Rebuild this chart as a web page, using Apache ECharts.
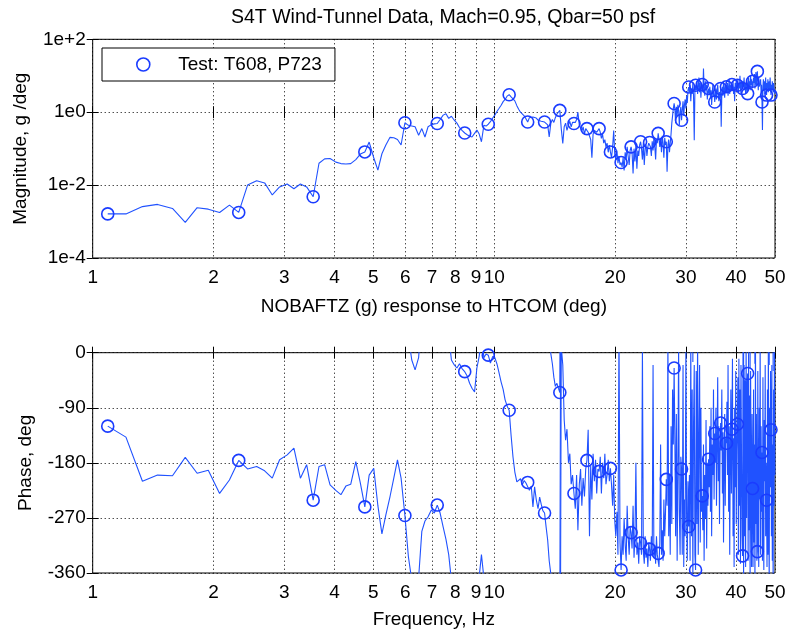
<!DOCTYPE html>
<html>
<head>
<meta charset="utf-8">
<script src="https://cdn.jsdelivr.net/npm/echarts@6/dist/echarts.min.js"></script>
<style>html,body{margin:0;padding:0;background:#fff}#c{width:793px;height:631px}</style>
</head>
<body>
<div id="c"></div>
<script>
const titleText = 'S4T Wind-Tunnel Data, Mach=0.95, Qbar=50 psf';
const seriesName = 'Test: T608, P723';
const magAxisName = 'Magnitude, g /deg';
const magXAxisName = 'NOBAFTZ (g) response to HTCOM (deg)';
const phaseAxisName = 'Phase, deg';
const phaseXAxisName = 'Frequency, Hz';

const freqTicks = [1, 2, 3, 4, 5, 6, 7, 8, 9, 10, 20, 30, 40, 50];
const magDecadeTicks = [-4, -2, 0, 2];
const phaseTicks = [-360, -270, -180, -90, 0];
const phaseWrap = [0, 360, 720];
const markerEvery = 10;

const freqHz = [
1.09,1.21,1.33,1.45,1.58,1.70,1.82,1.94,2.07,2.19,
2.31,2.43,2.56,2.68,2.80,2.92,3.05,3.17,3.29,3.41,
3.54,3.66,3.78,3.90,4.03,4.15,4.27,4.39,4.52,4.64,
4.76,4.88,5.01,5.13,5.25,5.37,5.50,5.62,5.74,5.86,
5.99,6.11,6.23,6.35,6.48,6.60,6.72,6.84,6.97,7.09,
7.21,7.33,7.46,7.58,7.70,7.82,7.95,8.07,8.19,8.31,
8.44,8.56,8.68,8.80,8.93,9.05,9.17,9.29,9.42,9.54,
9.66,9.78,9.91,10.03,10.15,10.27,10.40,10.52,10.64,10.76,
10.89,11.01,11.13,11.25,11.38,11.50,11.62,11.74,11.87,11.99,
12.11,12.23,12.36,12.48,12.60,12.72,12.85,12.97,13.09,13.21,
13.34,13.46,13.58,13.70,13.83,13.95,14.07,14.19,14.32,14.44,
14.56,14.68,14.81,14.93,15.05,15.17,15.30,15.42,15.54,15.66,
15.79,15.91,16.03,16.15,16.28,16.40,16.52,16.64,16.77,16.89,
17.01,17.13,17.26,17.38,17.50,17.62,17.75,17.87,17.99,18.11,
18.24,18.36,18.48,18.60,18.73,18.85,18.97,19.09,19.22,19.34,
19.46,19.58,19.71,19.83,19.95,20.07,20.20,20.32,20.44,20.56,
20.69,20.81,20.93,21.05,21.18,21.30,21.42,21.54,21.67,21.79,
21.91,22.03,22.16,22.28,22.40,22.52,22.65,22.77,22.89,23.01,
23.14,23.26,23.38,23.50,23.63,23.75,23.87,23.99,24.12,24.24,
24.36,24.48,24.61,24.73,24.85,24.97,25.10,25.22,25.34,25.46,
25.59,25.71,25.83,25.95,26.08,26.20,26.32,26.44,26.57,26.69,
26.81,26.93,27.06,27.18,27.30,27.42,27.55,27.67,27.79,27.91,
28.04,28.16,28.28,28.40,28.53,28.65,28.77,28.89,29.02,29.14,
29.26,29.38,29.51,29.63,29.75,29.87,30.00,30.12,30.24,30.36,
30.49,30.61,30.73,30.85,30.98,31.10,31.22,31.34,31.47,31.59,
31.71,31.83,31.96,32.08,32.20,32.32,32.45,32.57,32.69,32.81,
32.94,33.06,33.18,33.30,33.43,33.55,33.67,33.79,33.92,34.04,
34.16,34.28,34.41,34.53,34.65,34.77,34.90,35.02,35.14,35.26,
35.39,35.51,35.63,35.75,35.88,36.00,36.12,36.24,36.37,36.49,
36.61,36.73,36.86,36.98,37.10,37.22,37.35,37.47,37.59,37.71,
37.84,37.96,38.08,38.20,38.33,38.45,38.57,38.69,38.82,38.94,
39.06,39.18,39.31,39.43,39.55,39.67,39.80,39.92,40.04,40.16,
40.29,40.41,40.53,40.65,40.78,40.90,41.02,41.14,41.27,41.39,
41.51,41.63,41.76,41.88,42.00,42.12,42.25,42.37,42.49,42.61,
42.74,42.86,42.98,43.10,43.23,43.35,43.47,43.59,43.72,43.84,
43.96,44.08,44.21,44.33,44.45,44.57,44.70,44.82,44.94,45.06,
45.19,45.31,45.43,45.55,45.68,45.80,45.92,46.04,46.17,46.29,
46.41,46.53,46.66,46.78,46.90,47.02,47.15,47.27,47.39,47.51,
47.64,47.76,47.88,48.00,48.13,48.25,48.37,48.49,48.62,48.74,
48.86,48.98,49.11,49.23,49.35,49.47,49.60,49.72,49.84,49.96
];

// log10 of magnitude (g/deg)
const magLog10 = [
-2.79,-2.79,-2.59,-2.53,-2.64,-3.02,-2.62,-2.66,-2.75,-2.55,
-2.75,-2.00,-1.88,-1.94,-2.27,-2.05,-1.97,-2.10,-1.97,-2.05,
-2.32,-1.40,-1.28,-1.27,-1.37,-1.41,-1.42,-1.41,-1.30,-1.15,
-1.09,-0.82,-1.25,-1.59,-1.14,-0.90,-0.69,-0.70,-0.75,-0.90,
-0.29,-0.36,-0.38,-0.40,-0.63,-0.45,-0.68,-0.40,-0.34,-0.32,
-0.31,-0.20,-0.08,-0.04,-0.17,-0.11,-0.22,-0.30,-0.42,-0.50,
-0.57,-0.62,-0.66,-0.68,-0.58,-0.49,-0.60,-0.81,-0.36,-0.38,
-0.33,-0.26,-0.16,-0.08,0.02,0.10,0.19,0.29,0.35,0.44,
0.48,0.42,0.37,0.31,0.18,0.08,0.00,-0.04,-0.10,-0.18,
-0.27,-0.15,-0.10,-0.13,-0.08,-0.16,-0.22,-0.18,-0.25,-0.30,
-0.27,-0.22,-0.35,-0.68,-0.30,-0.20,-0.28,-0.15,-0.05,0.00,
0.05,-0.45,-0.86,-0.40,-0.30,-0.50,-0.35,-0.25,-0.40,-0.28,
-0.31,-0.28,-0.20,0.00,-0.35,-0.30,-0.52,-0.40,-0.60,-0.45,
-0.45,-0.55,-0.50,-0.75,-1.25,-0.60,-0.50,-0.48,-0.55,-0.50,
-0.45,-0.55,-0.72,-0.60,-0.85,-0.75,-0.95,-0.85,-1.10,-0.90,
-1.09,-1.25,-0.95,-0.50,-1.15,-1.30,-1.05,-1.40,-1.20,-1.45,
-1.38,-1.50,-1.25,-1.60,-1.10,-1.30,-0.95,-1.20,-1.45,-1.05,
-0.95,-1.10,-1.68,-1.00,-1.35,-0.90,-1.55,-1.05,-1.20,-0.90,
-0.81,-1.00,-1.30,-0.85,-1.45,-1.00,-0.90,-1.20,-0.95,-0.85,
-0.83,-0.95,-1.20,-0.80,-1.05,-0.70,-0.95,-1.30,-0.75,-0.85,
-0.58,-0.75,-0.95,-0.70,-1.10,-0.65,-0.85,-1.25,-0.70,-0.90,
-0.81,-1.63,-0.90,-0.75,-1.10,-0.85,-0.60,-0.30,-0.10,0.10,
0.24,0.10,-0.30,0.15,-0.10,0.20,0.05,-0.35,0.00,0.15,
-0.22,0.05,0.30,-0.10,0.20,0.35,0.10,0.45,0.25,0.60,
0.69,0.55,0.75,0.30,0.65,0.50,0.80,0.45,-0.77,0.60,
0.74,0.60,0.85,0.50,0.70,0.95,0.55,0.80,0.40,0.70,
0.76,0.55,1.20,0.65,0.45,0.85,0.60,0.75,0.35,0.55,
0.65,0.50,0.70,0.40,0.60,0.20,0.55,0.75,0.45,0.55,
0.28,0.45,0.65,0.35,0.60,0.75,0.50,0.30,0.55,0.40,
0.65,-0.40,0.50,0.70,0.45,0.85,0.60,0.40,0.75,0.55,
0.70,0.55,0.80,0.45,0.65,0.90,0.50,0.75,0.60,0.70,
0.76,0.60,0.85,0.50,0.70,0.30,0.80,0.65,0.90,0.60,
0.74,0.90,0.55,0.80,0.65,1.00,0.70,0.50,0.85,0.75,
0.65,0.85,0.70,0.95,0.60,0.80,0.50,0.75,0.90,0.55,
0.51,0.80,0.95,0.70,0.85,0.60,1.00,0.75,0.90,0.65,
0.85,0.70,0.95,0.80,1.05,0.65,0.90,1.10,0.75,0.95,
1.12,0.85,0.60,0.95,0.70,0.65,0.80,0.90,0.55,0.75,
0.28,-0.49,0.70,0.90,0.60,0.85,0.50,0.75,0.95,0.65,
0.47,0.80,0.65,0.90,0.55,0.75,0.85,0.60,0.95,0.70,
0.47,0.75,0.60,0.85,0.70,0.55,0.80,0.65,0.50,0.60
];

// phase, degrees (unwrapped where the plot wraps)
const phaseDeg = [
-120,-138,-210,-200,-201,-171,-197,-192,-230,-208,
-176,-190,-186,-193,-205,-175,-167,-156,-205,-183,
-241,-186,-183,-216,-225,-232,-218,-215,-178,-213,
-252,-200,-189,-250,-296,-265,-235,-205,-175,-205,
-266,-333,-372,-388,-368,-292,-275,-268,-257,-262,
-249,-262,-285,-305,-330,-372,-380,-385,-378,-386,
-391,-398,-410,-418,-424,-385,-366,-330,-368,-362,
-364,-377,-366,-368,-378,-392,-408,-420,-437,-447,
-454,-495,-530,-555,-571,-574,-566,-576,-569,-573,
-572,-585,-578,-612,-579,-600,-615,-596,-608,-618,
-622,-645,-666,-700,-722,-738,-760,-775,-770,-778,
-785,10,-20,-110,-143,-125,-180,-165,-215,-200,
-230,-255,-200,-290,-215,-190,-250,-205,-235,-190,
-176,-126,-300,-185,-240,-165,-210,-175,-230,-190,
-194,-170,-230,-180,-205,-165,-215,-200,-175,-210,
-189,-215,-250,-200,-275,-300,-260,-330,40,-310,
-355,-300,-330,-270,-315,-340,-250,-300,-330,-285,
-294,-320,-250,-335,-300,-180,-330,-310,-345,-300,
-311,-330,10,-325,-345,-300,-335,-320,-350,-310,
-321,-340,-300,-330,-20,-335,-315,-345,-300,-330,
-328,-350,-310,-150,-330,-290,-340,-240,-300,-260,
-207,-250,20,-300,-200,-330,-120,-280,-60,-150,
-25,-140,-300,-100,-340,-200,15,-260,-330,-170,
-190,-330,-20,-350,-240,-300,25,-270,-340,-210,
-284,-200,-340,20,-300,-60,-375,-120,-20,-330,
-355,-30,-280,35,-330,-150,-20,-310,-90,-260,
-234,-290,-150,-340,-200,-270,-110,-320,-180,-250,
-174,-220,-120,-260,-90,-300,-150,-200,-60,-240,
-132,-180,-90,-250,-140,-40,-210,-120,-280,-160,
-115,-160,-60,-230,-130,-310,-170,-100,-250,-140,
-148,-80,-200,-20,-260,-120,-330,-170,-60,-230,
-125,-10,-300,-140,-350,-90,-220,-30,-280,-160,
-117,-40,-330,-10,-250,-60,-345,-20,-180,-300,
-332,30,-380,-20,-300,-45,-350,25,-270,-60,
-34,-340,20,-290,-70,-385,-30,-200,-350,-100,
-222,-350,-60,-310,-150,-378,30,-280,-100,-340,
-325,-30,-280,-350,-90,-240,25,-330,-120,-260,
-163,-340,-40,-290,-355,-110,-210,-20,-300,-180,
-241,-350,-60,-330,30,-270,-380,-90,-220,-30,
-126,-300,-20,-340,-150,-390,-60,-250,20,-200
];

const lineColor = '#2052ff';
const markerColor = '#1a3cff';
const font = "'Liberation Sans', Arial, Helvetica, sans-serif";
const fs = 19;

const chart = echarts.init(document.getElementById('c'), null, {renderer: 'canvas'});
const logFreqTicks = freqTicks.map(f => Math.log10(f));
const xMax = Math.log10(50);

function xAxes(gridIndex, gap, name) {
  const main = {
    type: 'value', gridIndex, min: 0, max: xMax,
    axisLine: {show: false},
    axisTick: {show: true, inside: true, length: 6, customValues: logFreqTicks, lineStyle: {color: '#000', width: 1}},
    axisLabel: {show: true, customValues: logFreqTicks, margin: 10, color: '#000', fontFamily: font, fontSize: fs,
      formatter: v => String(Math.round(Math.pow(10, v)))},
    splitLine: {show: true, lineStyle: {color: '#000', width: 1, type: [1, 3]}},
    name, nameLocation: 'middle', nameGap: gap,
    nameTextStyle: {color: '#000', fontFamily: font, fontSize: fs}
  };
  const mirror = {
    type: 'value', gridIndex, min: 0, max: xMax, position: 'top',
    axisLine: {show: false},
    axisTick: {show: true, inside: true, length: 6, customValues: logFreqTicks, lineStyle: {color: '#000', width: 1}},
    axisLabel: {show: false, customValues: logFreqTicks},
    splitLine: {show: false}
  };
  return [main, mirror];
}

function yAxes(gridIndex, min, max, interval, fmt, name, gap) {
  const main = {
    type: 'value', gridIndex, min, max, interval,
    axisLine: {show: false},
    axisTick: {show: true, inside: true, length: 6, lineStyle: {color: '#000', width: 1}},
    axisLabel: {margin: 7, color: '#000', fontFamily: font, fontSize: fs, formatter: fmt},
    splitLine: {show: true, lineStyle: {color: '#000', width: 1, type: [1, 3]}},
    name, nameLocation: 'middle', nameGap: gap, nameRotate: 90,
    nameTextStyle: {color: '#000', fontFamily: font, fontSize: fs}
  };
  const mirror = {
    type: 'value', gridIndex, min, max, interval, position: 'right',
    axisLine: {show: false},
    axisTick: {show: true, inside: true, length: 6, lineStyle: {color: '#000', width: 1}},
    axisLabel: {show: false},
    splitLine: {show: false}
  };
  return [main, mirror];
}

const magFmt = v => v === 0 ? '1e0' : (v > 0 ? '1e+' + v : '1e' + v);
const phaseFmt = v => String(v);

const symSize = (v, p) => (p.dataIndex % markerEvery === 0 ? 12 : 0);
const baseSeries = {
  type: 'line', name: seriesName, symbol: 'circle', symbolSize: symSize,
  itemStyle: {color: 'rgba(0,0,0,0)', borderColor: markerColor, borderWidth: 1.6},
  lineStyle: {color: lineColor, width: 1.1},
  clip: true, silent: true, animation: false, emphasis: {disabled: true}
};

const series = [
  Object.assign({}, baseSeries, {
    xAxisIndex: 0, yAxisIndex: 0,
    data: freqHz.map((f, i) => [Math.log10(f), magLog10[i]])
  })
];
phaseWrap.forEach(w => {
  series.push(Object.assign({}, baseSeries, {
    xAxisIndex: 2, yAxisIndex: 2,
    data: freqHz.map((f, i) => [Math.log10(f), phaseDeg[i] + w])
  }));
});

const option = {
  backgroundColor: '#fff',
  animation: false,
  title: {text: titleText, left: 226, top: 3,
    textStyle: {color: '#000', fontFamily: font, fontSize: 19.5, fontWeight: 'normal'}},
  legend: {
    data: [{name: seriesName, icon: 'circle', itemStyle: {color: '#fff', borderColor: markerColor, borderWidth: 1.6}}],
    left: 102, top: 48, padding: [7, 13, 7, 34], itemWidth: 60, itemHeight: 13,
    borderColor: '#000', borderWidth: 1, backgroundColor: '#fff', borderRadius: 0,
    selectedMode: false,
    textStyle: {color: '#000', fontFamily: font, fontSize: fs}
  },
  grid: [
    {left: 92.7, top: 39.3, width: 682.3, height: 218.7, show: true, borderColor: '#000', borderWidth: 1, backgroundColor: 'transparent'},
    {left: 92.7, top: 352.7, width: 682.3, height: 220.3, show: true, borderColor: '#000', borderWidth: 1, backgroundColor: 'transparent'}
  ],
  xAxis: [].concat(xAxes(0, 39, magXAxisName), xAxes(1, 37, phaseXAxisName)),
  yAxis: [].concat(
    yAxes(0, magDecadeTicks[0], magDecadeTicks[magDecadeTicks.length - 1], 2, magFmt, magAxisName, 62),
    yAxes(1, phaseTicks[0], phaseTicks[phaseTicks.length - 1], 90, phaseFmt, phaseAxisName, 57)
  ),
  series
};
chart.setOption(option);
</script>
</body>
</html>
